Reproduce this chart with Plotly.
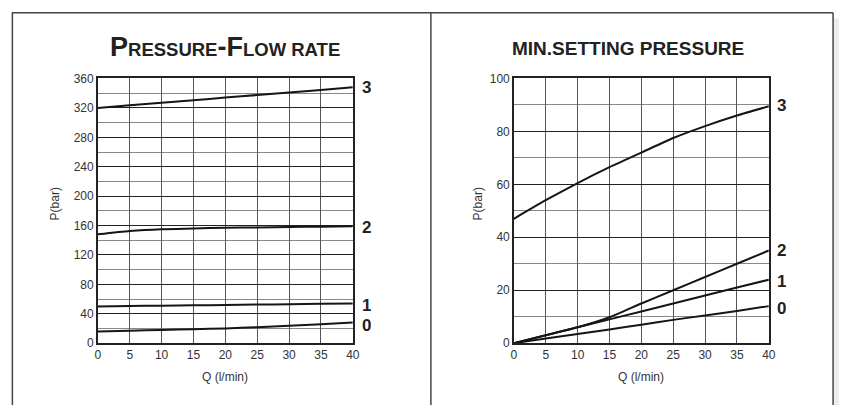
import plotly.graph_objects as go

# ---- data ----
q = [0, 5, 10, 15, 20, 25, 30, 35, 40]

# Left chart: Pressure-Flow rate
pf_3 = [320, 323.5, 327, 330.5, 334, 337.5, 341, 344.5, 348]
pf_2 = [148, 152.5, 155, 156, 157, 157.5, 158, 158.5, 159]
pf_1 = [50, 50.5, 51, 51.5, 52, 52.5, 53, 53.5, 54]
pf_0 = [16, 17, 18, 19, 20, 21.8, 23.8, 25.8, 28]

# Right chart: Min. setting pressure
ms_3 = [47, 54, 60.5, 66.5, 72, 77.5, 82, 86, 89.5]
ms_2 = [0, 3, 6, 9.8, 15, 20, 25, 30, 35]
ms_1 = [0, 3, 6, 9, 12, 15, 18, 21, 24]
ms_0 = [0, 1.8, 3.5, 5.2, 7, 8.8, 10.5, 12.2, 14]

curve_names = ["0", "1", "2", "3"]

x_ticks = [0, 5, 10, 15, 20, 25, 30, 35, 40]
left_y_ticks = [0, 40, 80, 120, 160, 200, 240, 280, 320, 360]
right_y_ticks = [0, 20, 40, 60, 80, 100]

W, H = 846, 412
FONT = "Liberation Sans, Arial, sans-serif"
LINE = "#151515"

def px_x(p):
    return p / W

def px_y(p):
    return 1 - p / H

fig = go.Figure()

left_series = [pf_0, pf_1, pf_2, pf_3]
right_series = [ms_0, ms_1, ms_2, ms_3]

for name, ys in zip(curve_names, left_series):
    fig.add_trace(go.Scatter(x=q, y=ys, mode="lines", line=dict(color=LINE, width=2, shape="spline", smoothing=0.6),
                             xaxis="x", yaxis="y", showlegend=False, hoverinfo="skip"))
for name, ys in zip(curve_names, right_series):
    fig.add_trace(go.Scatter(x=q, y=ys, mode="lines", line=dict(color=LINE, width=2, shape="spline", smoothing=0.6),
                             xaxis="x2", yaxis="y2", showlegend=False, hoverinfo="skip"))

tickfont = dict(family=FONT, size=12, color="#333")
common_x = dict(range=[0, 40], tickvals=x_ticks, showgrid=True, gridcolor="#555", gridwidth=1,
                showline=True, linecolor="#222", linewidth=1.5, mirror=True, zeroline=False,
                ticks="", tickfont=tickfont, fixedrange=True)

fig.update_layout(
    width=W, height=H,
    margin=dict(l=0, r=0, t=0, b=0),
    paper_bgcolor="white", plot_bgcolor="white",
    xaxis=dict(domain=[px_x(96), px_x(354)], anchor="y", **common_x),
    yaxis=dict(domain=[px_y(348), px_y(74)], anchor="x", range=[0, 360], tickvals=left_y_ticks,
               showgrid=True, gridcolor="#222", gridwidth=1,
               minor=dict(dtick=20, showgrid=True, gridcolor="#888", gridwidth=1),
               showline=True, linecolor="#222", linewidth=1.5, mirror=True, zeroline=False,
               ticks="", tickfont=tickfont, fixedrange=True),
    xaxis2=dict(domain=[px_x(517), px_x(775)], anchor="y2", **common_x),
    yaxis2=dict(domain=[px_y(348), px_y(74)], anchor="x2", range=[0, 100], tickvals=right_y_ticks,
                showgrid=True, gridcolor="#222", gridwidth=1,
                minor=dict(dtick=10, showgrid=True, gridcolor="#888", gridwidth=1),
                showline=True, linecolor="#222", linewidth=1.5, mirror=True, zeroline=False,
                ticks="", tickfont=tickfont, fixedrange=True),
)

ann = []
# titles
ann.append(dict(xref="paper", yref="paper", x=px_x(225), y=px_y(41), xanchor="center", yanchor="middle",
                showarrow=False,
                text="<b>P<span style='font-size:18.5px'>RESSURE</span>-F<span style='font-size:18.5px'>LOW RATE</span></b>",
                font=dict(family=FONT, size=27, color="#222")))
ann.append(dict(xref="paper", yref="paper", x=px_x(632), y=px_y(43), xanchor="center", yanchor="middle",
                showarrow=False, text="<b>MIN.SETTING PRESSURE</b>",
                font=dict(family=FONT, size=19, color="#222")))
# axis titles
for xc in (53, 481):
    ann.append(dict(xref="paper", yref="paper", x=px_x(xc), y=px_y(204), xanchor="center", yanchor="middle",
                    showarrow=False, text="P(bar)", textangle=-90,
                    font=dict(family=FONT, size=12, color="#333")))
for xc in (225, 646):
    ann.append(dict(xref="paper", yref="paper", x=px_x(xc), y=px_y(383), xanchor="center", yanchor="middle",
                    showarrow=False, text="Q (l/min)",
                    font=dict(family=FONT, size=12, color="#333")))
# curve labels
left_label_y = [25, 52.5, 157.5, 349]
right_label_y = [13.2, 23.5, 35.2, 90]
for name, yv in zip(curve_names, left_label_y):
    ann.append(dict(xref="x", yref="y", x=40, y=yv, xanchor="left", yanchor="middle", xshift=7,
                    showarrow=False, text="<b>%s</b>" % name, height=18,
                    font=dict(family=FONT, size=17, color="#222")))
for name, yv in zip(curve_names, right_label_y):
    ann.append(dict(xref="x2", yref="y2", x=40, y=yv, xanchor="left", yanchor="middle", xshift=6,
                    showarrow=False, text="<b>%s</b>" % name, height=18,
                    font=dict(family=FONT, size=17, color="#222")))
fig.update_layout(annotations=ann)

# frame lines
frame = dict(color="#444", width=1.5)
shapes = [
    dict(type="rect", xref="paper", yref="paper", x0=px_x(841), x1=1, y0=0, y1=px_y(12),
         fillcolor="#ececec", line=dict(width=0), layer="below"),
    dict(type="line", xref="paper", yref="paper", x0=px_x(9), x1=px_x(840), y0=px_y(6), y1=px_y(6), line=frame),
    dict(type="line", xref="paper", yref="paper", x0=px_x(9.5), x1=px_x(9.5), y0=px_y(6), y1=0, line=frame),
    dict(type="line", xref="paper", yref="paper", x0=px_x(433), x1=px_x(433), y0=px_y(6), y1=0, line=frame),
    dict(type="line", xref="paper", yref="paper", x0=px_x(840), x1=px_x(840), y0=px_y(6), y1=0, line=frame),
]
fig.update_layout(shapes=shapes)

fig.write_html("out.html", config={"displayModeBar": False},
               post_script="document.body.style.margin='0';document.body.style.overflow='hidden';")
